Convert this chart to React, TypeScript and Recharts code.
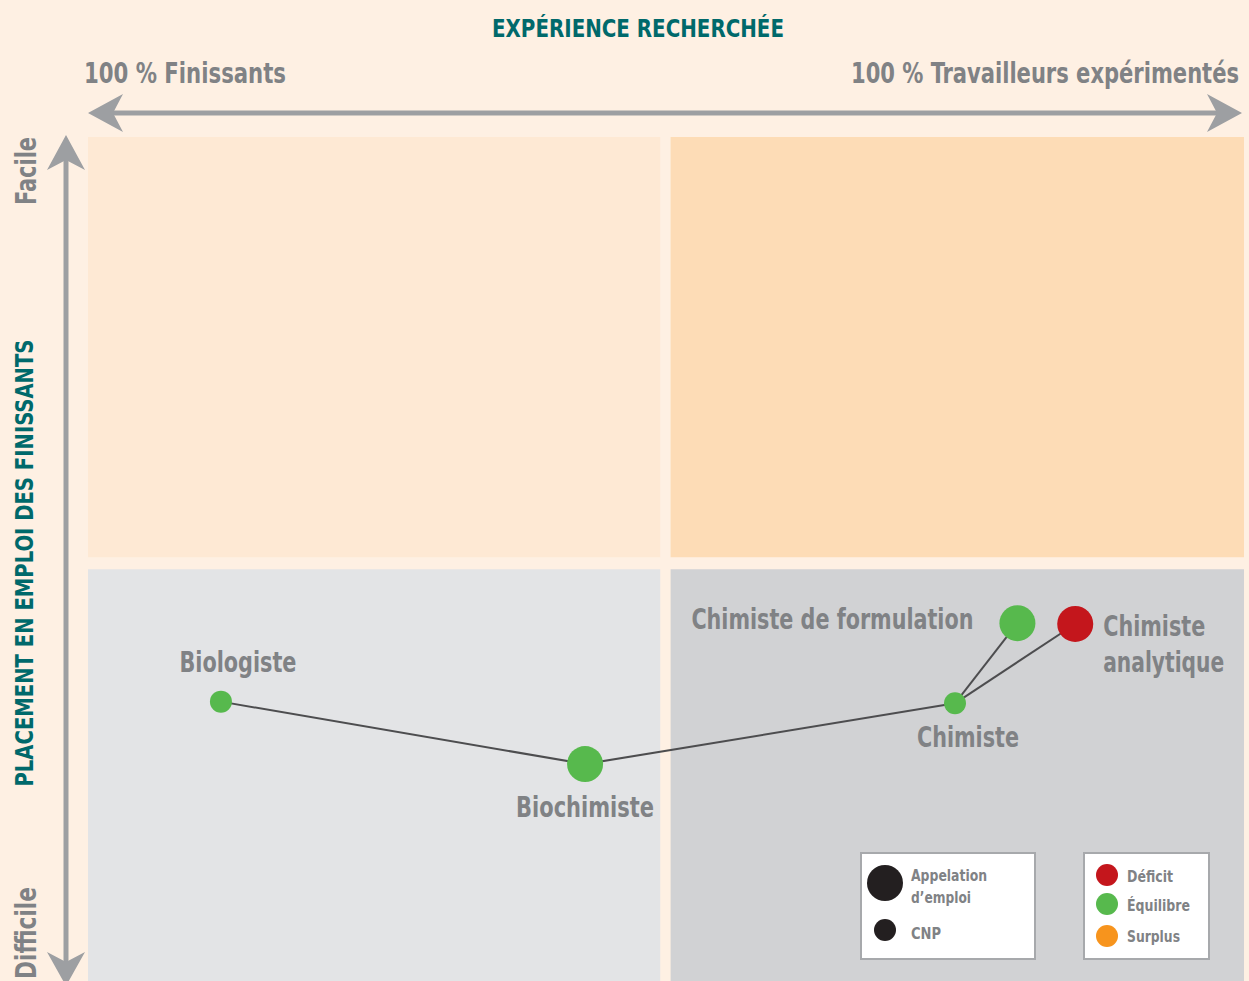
import React from "react";
import { ScatterChart, Scatter, XAxis, YAxis, ReferenceArea } from "recharts";

// ---- data ----
const occupations = ["Biologiste", "Biochimiste", "Chimiste", "Chimiste de formulation", "Chimiste analytique"];
const xValues = [11.5, 43.0, 75.0, 80.4, 85.4]; // expérience recherchée (0 = 100 % finissants, 100 = 100 % expérimentés)
const yValues = [33.1, 25.7, 32.9, 42.4, 42.3]; // placement (0 = difficile, 100 = facile)
const levels = ["cnp", "appellation", "cnp", "appellation", "appellation"];
const statuses = ["equilibre", "equilibre", "equilibre", "equilibre", "deficit"];
const links: [number, number][] = [
  [0, 1],
  [1, 2],
  [2, 3],
  [2, 4],
];
const quadrantsX = [[0, 49.5], [50.4, 100]];
const quadrantsY = [[0, 48.8], [50.2, 100]];

const points = occupations.map((name, i) => ({
  name,
  x: xValues[i],
  y: yValues[i],
  level: levels[i],
  status: statuses[i],
}));

// ---- styles ----
const FONT = "'Liberation Sans Narrow', 'DejaVu Sans Condensed', 'Roboto Condensed', sans-serif";
const GRAY = "#808285";
const TEAL = "#00696B";
const ARROW = "#9D9FA2";
const statusColor: Record<string, string> = { equilibre: "#57B94D", deficit: "#C4161C", surplus: "#F7941D" };
const levelRadius: Record<string, number> = { appellation: 18, cnp: 11 };
const quadFill = [["#E3E4E6", "#D1D2D4"], ["#FEE9D4", "#FDDCB6"]];
const labelPlacement: Record<string, { dx: number; dy: number[]; anchor: string; lines: string[]; widths: number[] }> = {
  Biologiste: { dx: 17, dy: [-30], anchor: "middle", lines: ["Biologiste"], widths: [117] },
  Biochimiste: { dx: 0, dy: [53], anchor: "middle", lines: ["Biochimiste"], widths: [138] },
  Chimiste: { dx: 13, dy: [44], anchor: "middle", lines: ["Chimiste"], widths: [102] },
  "Chimiste de formulation": { dx: -44, dy: [6], anchor: "end", lines: ["Chimiste de formulation"], widths: [282] },
  "Chimiste analytique": { dx: 28, dy: [12, 48], anchor: "start", lines: ["Chimiste", "analytique"], widths: [102, 121] },
};

const T = (p: any) => <text lengthAdjust="spacingAndGlyphs" {...p} />;

const PointShape = (props: any) => {
  const { cx, cy, payload } = props;
  const r = levelRadius[payload.level];
  const lp = labelPlacement[payload.name];
  return (
    <g>
      <circle cx={cx} cy={cy} r={r} fill={statusColor[payload.status]} />
      {lp.lines.map((l, k) => (
        <T
          key={k}
          x={cx + lp.dx}
          y={cy + lp.dy[k]}
          textAnchor={lp.anchor as any}
          textLength={lp.widths[k]}
          fontFamily={FONT}
          fontWeight="bold"
          fontSize={28}
          fill={GRAY}
        >
          {l}
        </T>
      ))}
    </g>
  );
};

const Empty = () => <g />;

const Overlay = () => (
  <svg
    width={1249}
    height={981}
    style={{ position: "absolute", left: 0, top: 0, pointerEvents: "none" }}
    fontFamily={FONT}
    fontWeight="bold"
  >
    <T x={638} y={37} textAnchor="middle" fontSize={25} fill={TEAL} textLength={292}>
      EXPÉRIENCE RECHERCHÉE
    </T>
    <T x={84} y={83} fontSize={28} fill={GRAY} textLength={202}>
      100 % Finissants
    </T>
    <T x={1239} y={83} textAnchor="end" fontSize={28} fill={GRAY} textLength={388}>
      100 % Travailleurs expérimentés
    </T>
    {/* horizontal arrow */}
    <line x1={108} y1={113} x2={1222} y2={113} stroke={ARROW} strokeWidth={5} />
    <polygon points="88,113 123,94 113,113 123,132" fill={ARROW} />
    <polygon points="1242,113 1207,94 1217,113 1207,132" fill={ARROW} />
    {/* vertical arrow */}
    <line x1={66} y1={155} x2={66} y2={965} stroke={ARROW} strokeWidth={5} />
    <polygon points="66,135 47,170 66,160 85,170" fill={ARROW} />
    <polygon points="66,986 47,952 66,962 85,952" fill={ARROW} />
    <T x={36} y={171} transform="rotate(-90 36 171)" textAnchor="middle" fontSize={28} fill={GRAY} textLength={68}>
      Facile
    </T>
    <T x={33} y={563} transform="rotate(-90 33 563)" textAnchor="middle" fontSize={25} fill={TEAL} textLength={447}>
      PLACEMENT EN EMPLOI DES FINISSANTS
    </T>
    <T x={36} y={933} transform="rotate(-90 36 933)" textAnchor="middle" fontSize={28} fill={GRAY} textLength={92}>
      Difficile
    </T>
    {/* legend 1 */}
    <rect x={861} y={853} width={174} height={106} fill="#fff" stroke="#A7A9AC" strokeWidth={2} />
    <circle cx={885} cy={883} r={18} fill="#231F20" />
    <circle cx={885} cy={930} r={11} fill="#231F20" />
    <T x={911} y={881} fontSize={16} fill={GRAY} textLength={76}>Appelation</T>
    <T x={911} y={903} fontSize={16} fill={GRAY} textLength={60}>d’emploi</T>
    <T x={911} y={939} fontSize={16} fill={GRAY} textLength={30}>CNP</T>
    {/* legend 2 */}
    <rect x={1084} y={853} width={125} height={106} fill="#fff" stroke="#A7A9AC" strokeWidth={2} />
    <circle cx={1107} cy={875} r={11} fill={statusColor.deficit} />
    <circle cx={1107} cy={904} r={11} fill={statusColor.equilibre} />
    <circle cx={1107} cy={936} r={11} fill={statusColor.surplus} />
    <T x={1127} y={882} fontSize={16} fill={GRAY} textLength={46}>Déficit</T>
    <T x={1127} y={911} fontSize={16} fill={GRAY} textLength={63}>Équilibre</T>
    <T x={1127} y={942} fontSize={16} fill={GRAY} textLength={53}>Surplus</T>
  </svg>
);

export default function App() {
  return (
    <div
      style={{
        position: "absolute",
        left: 0,
        top: 0,
        width: 1249,
        height: 981,
        background: "#FEF0E3",
        overflow: "hidden",
      }}
    >
      <ScatterChart width={1249} height={981} margin={{ top: 137, right: 5, bottom: 0, left: 88 }}>
        <XAxis type="number" dataKey="x" domain={[0, 100]} hide />
        <YAxis type="number" dataKey="y" domain={[0, 100]} hide />
        {quadrantsY.map((qy, row) =>
          quadrantsX.map((qx, col) => (
            <ReferenceArea
              key={`${row}-${col}`}
              x1={qx[0]}
              x2={qx[1]}
              y1={qy[0]}
              y2={qy[1]}
              fill={quadFill[row][col]}
              fillOpacity={1}
              stroke="none"
              ifOverflow="extendDomain"
            />
          ))
        )}
        {links.map(([a, b], i) => (
          <Scatter
            key={i}
            data={[points[a], points[b]]}
            line={{ stroke: "#4D4D4F", strokeWidth: 2 }}
            lineType="joint"
            shape={Empty}
            isAnimationActive={false}
          />
        ))}
        <Scatter data={points} shape={PointShape} isAnimationActive={false} />
      </ScatterChart>
      <Overlay />
    </div>
  );
}
